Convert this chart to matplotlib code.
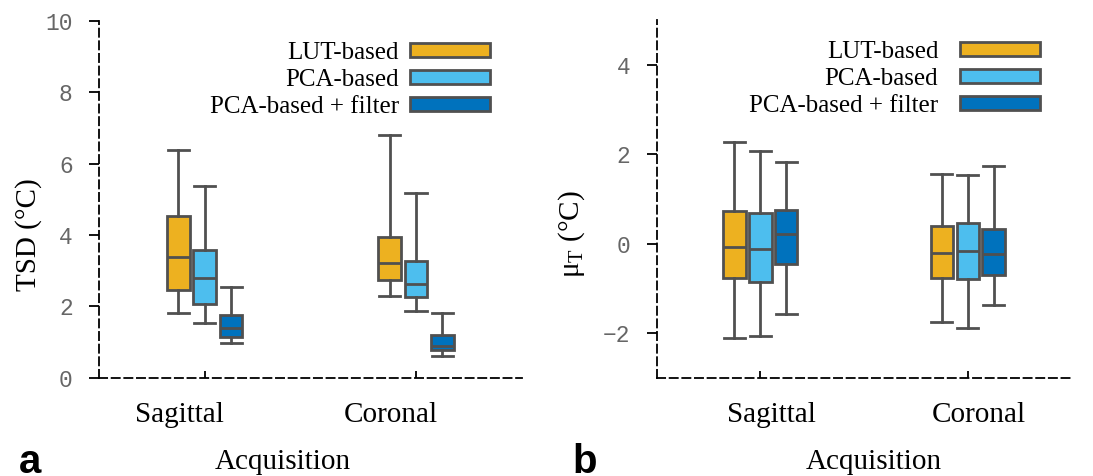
import matplotlib
matplotlib.use("Agg")
import matplotlib.pyplot as plt
from matplotlib.patches import Patch
import matplotlib.transforms as mtransforms

# box statistics: (whislo, q1, median, q3, whishi)
groups = ["Sagittal", "Coronal"]
methods = ["LUT-based", "PCA-based", "PCA-based + filter"]
colors = ["#EDB120", "#4DBEEE", "#0072BD"]

tsd_lut = [(1.82, 2.46, 3.37, 4.54, 6.39), (2.29, 2.74, 3.20, 3.95, 6.80)]
tsd_pca = [(1.54, 2.06, 2.78, 3.58, 5.38), (1.88, 2.27, 2.62, 3.27, 5.18)]
tsd_filt = [(0.98, 1.13, 1.40, 1.76, 2.55), (0.61, 0.78, 0.89, 1.20, 1.80)]

mu_lut = [(-2.11, -0.76, -0.07, 0.73, 2.27), (-1.75, -0.76, -0.20, 0.39, 1.56)]
mu_pca = [(-2.06, -0.86, -0.13, 0.68, 2.08), (-1.89, -0.80, -0.16, 0.45, 1.54)]
mu_filt = [(-1.58, -0.45, 0.21, 0.76, 1.82), (-1.37, -0.71, -0.24, 0.33, 1.74)]

serif = "Liberation Serif"
edge = "#505050"


def stats(vals):
    lo, q1, med, q3, hi = vals
    return dict(whislo=lo, q1=q1, med=med, q3=q3, whishi=hi, fliers=[])


def draw_panel(ax, series, ylim, yticks, ylabel, label_shift, leg_x, textpad):
    offsets = [-0.125, 0.0, 0.125]
    for k, data in enumerate(series):
        pos = [g + 1 + offsets[k] for g in range(len(groups))]
        ax.bxp([stats(v) for v in data], positions=pos, widths=0.108,
               patch_artist=True, showfliers=False,
               boxprops=dict(facecolor=colors[k], edgecolor=edge, linewidth=2),
               medianprops=dict(color=edge, linewidth=2),
               whiskerprops=dict(color=edge, linewidth=2),
               capprops=dict(color=edge, linewidth=2),
               capwidths=0.1, manage_ticks=False)
    ax.set_xlim(0.5, 2.5)
    ax.set_ylim(*ylim)
    ax.set_yticks(yticks)
    ax.set_xticks(range(1, len(groups) + 1))
    ax.set_xticklabels([])
    # category names sit a little off their ticks in the original
    trans = mtransforms.blended_transform_factory(ax.transData, ax.transAxes)
    trans = trans + mtransforms.ScaledTranslation(label_shift / 100, -0.24,
                                                  ax.figure.dpi_scale_trans)
    for g, name in enumerate(groups):
        ax.text(g + 1, 0, name, transform=trans, ha="center", va="top",
                fontfamily=serif, fontsize=21)
    for s in ["top", "right"]:
        ax.spines[s].set_visible(False)
    for s in ["left", "bottom"]:
        ax.spines[s].set_linestyle((0, (4.5, 2.5)))
        ax.spines[s].set_linewidth(1.3)
    ax.tick_params(axis="y", direction="out", length=7, width=1.3, pad=12,
                   labelsize=16.5, labelcolor="#666666")
    ax.tick_params(axis="x", direction="in", length=5, width=1.3)
    for lab in ax.get_yticklabels():
        lab.set_fontfamily("Liberation Mono")
    ax.set_ylabel(ylabel, fontfamily=serif, fontsize=21)

    handles = [Patch(facecolor=c, edgecolor=edge, linewidth=2) for c in colors]
    ax.legend(handles, methods, loc="upper right", bbox_to_anchor=(leg_x, 0.955),
              frameon=False, markerfirst=False, prop=dict(family=serif, size=18),
              handlelength=3.2, handleheight=0.5, handletextpad=textpad,
              labelspacing=0.2, borderpad=0, borderaxespad=0.2)


fig = plt.figure(figsize=(10.93, 4.76), dpi=100)
ax1 = fig.add_axes([0.0906, 0.2065, 0.3866, 0.75])
ax2 = fig.add_axes([0.6008, 0.2065, 0.3795, 0.7515])

draw_panel(ax1, [tsd_lut, tsd_pca, tsd_filt], (0, 10), [0, 2, 4, 6, 8, 10],
           "TSD (°C)", -25, 0.937, 0.45)
draw_panel(ax2, [mu_lut, mu_pca, mu_filt], (-3, 5), [-2, 0, 2, 4],
           "μ$_\\mathregular{T}$ (°C)", 11, 0.935, 0.85)
ax1.yaxis.set_label_coords(-0.135, 0.4)
ax2.yaxis.set_label_coords(-0.168, 0.4)

fig.text(283 / 1093, 1 - 462 / 476, "Acquisition", ha="center", va="center",
         fontfamily=serif, fontsize=21)
fig.text(874 / 1093, 1 - 462 / 476, "Acquisition", ha="center", va="center",
         fontfamily=serif, fontsize=21)
fig.text(19 / 1093, 1 - 473 / 476, "a", ha="left", va="baseline",
         fontfamily="Liberation Sans", fontweight="bold", fontsize=29)
fig.text(572 / 1093, 1 - 473 / 476, "b", ha="left", va="baseline",
         fontfamily="Liberation Sans", fontweight="bold", fontsize=29)

fig.savefig("out.png", dpi=100)
